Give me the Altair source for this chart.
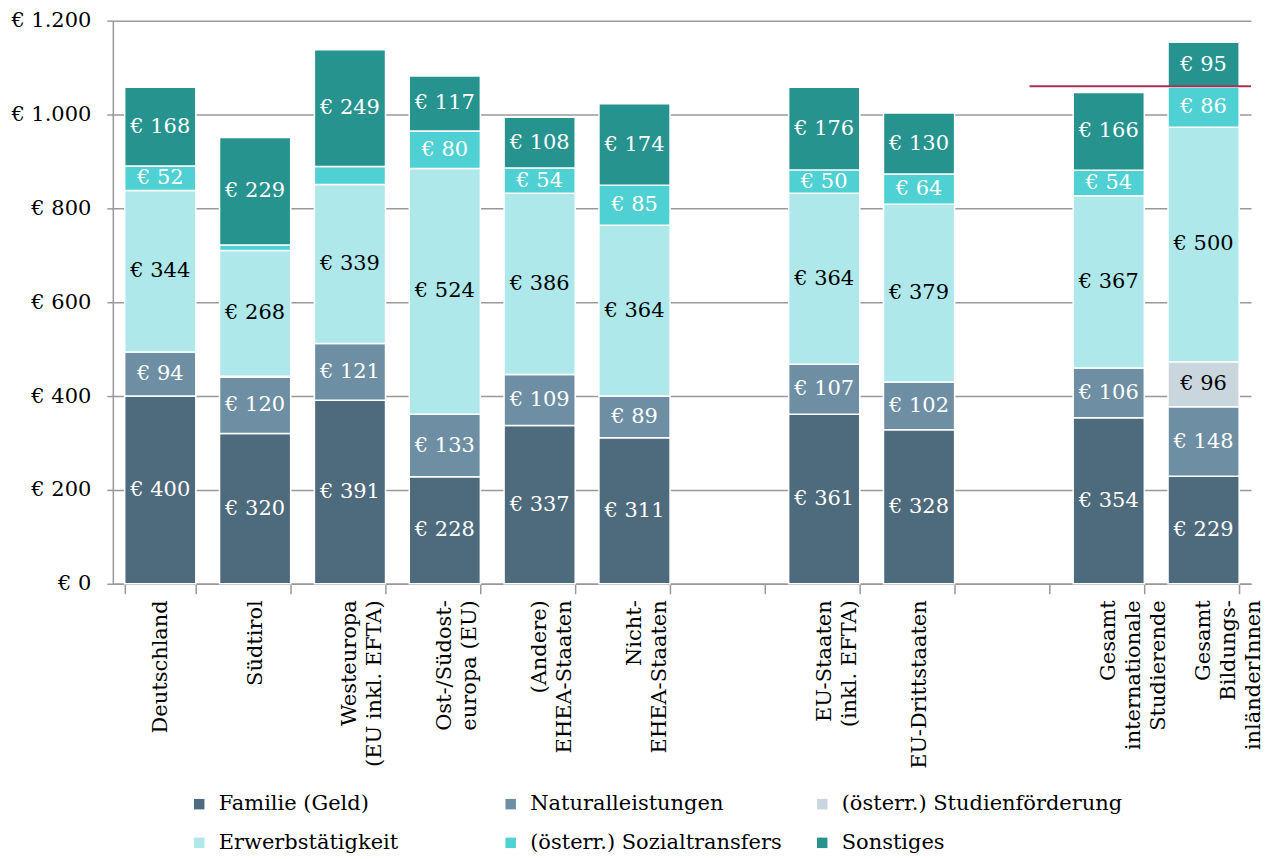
import altair as alt
import pandas as pd

# ---- data ----
categories = ["Deutschland", "Südtirol", "Westeuropa|(EU inkl. EFTA)", "Ost-/Südost-|europa (EU)",
              "(Andere)|EHEA-Staaten", "Nicht-|EHEA-Staaten", "gap1",
              "EU-Staaten|(inkl. EFTA)", "EU-Drittstaaten", "gap2",
              "Gesamt|internationale|Studierende", "Gesamt|Bildungs-|inländerInnen"]
groups = ["Deutschland", "Südtirol", "Westeuropa|(EU inkl. EFTA)", "Ost-/Südost-|europa (EU)",
          "(Andere)|EHEA-Staaten", "Nicht-|EHEA-Staaten",
          "EU-Staaten|(inkl. EFTA)", "EU-Drittstaaten",
          "Gesamt|internationale|Studierende", "Gesamt|Bildungs-|inländerInnen"]
series = ["Familie (Geld)", "Naturalleistungen", "(österr.) Studienförderung",
          "Erwerbstätigkeit", "(österr.) Sozialtransfers", "Sonstiges"]
colors = ["#4E6A7D", "#6E8FA3", "#C9D6DE", "#AEE8EA", "#4FD0D3", "#27938F"]
dark_text_series = ["(österr.) Studienförderung", "Erwerbstätigkeit"]

familie = [400, 320, 391, 228, 337, 311, 361, 328, 354, 229]
natural = [94, 120, 121, 133, 109, 89, 107, 102, 106, 148]
studienf = [0, 2, 0, 0, 0, 0, 0, 0, 0, 96]
erwerb = [344, 268, 339, 524, 386, 364, 364, 379, 367, 500]
sozial = [52, 12, 38, 80, 54, 85, 50, 64, 54, 86]
sonst = [168, 229, 249, 117, 108, 174, 176, 130, 166, 95]
values = [familie, natural, studienf, erwerb, sozial, sonst]

ref_value = 1060
label_min = 45

rows = []
for gi, g in enumerate(groups):
    base = 0
    for si, s in enumerate(series):
        v = values[si][gi]
        if v > 0:
            rows.append({"cat": g, "series": s, "order": si, "value": v,
                         "start": base, "end": base + v,
                         "mid": base + v / 2,
                         "label": f"€ {v}" if v >= label_min else ""})
        base += v
df = pd.DataFrame(rows)
df_white = df[~df["series"].isin(dark_text_series)]
df_black = df[df["series"].isin(dark_text_series)]

FONT = "DejaVu Serif"
W, H = 1140, 564

xscale = alt.Scale(domain=categories, paddingInner=0.25, paddingOuter=0.125)
yscale = alt.Scale(domain=[0, 1200])

x_enc = alt.X("cat:N", scale=xscale, title=None,
              axis=alt.Axis(labelAngle=-90, tickBand="extent", tickSize=10,
                            labelPadding=6, labelFontSize=21, labelLineHeight=25,
                            labelExpr="(isString(datum.value) && indexof(datum.value, 'gap') != 0) ? split(datum.value, '|') : ''",
                            labelLimit=400, domainColor="#999999", tickColor="#999999",
                            domainWidth=1.5, tickWidth=1.5, grid=False, labelColor="black"))
y_enc = alt.Y("start:Q", scale=yscale, title=None,
              axis=alt.Axis(values=[0, 200, 400, 600, 800, 1000, 1200],
                            labelExpr="'€ ' + replace(format(datum.value, ',.0f'), ',', '.')",
                            labelFontSize=21, tickSize=6, labelPadding=16,
                            domainColor="#999999", tickColor="#999999", domainWidth=1.5,
                            tickWidth=1.5, gridColor="#999999", gridWidth=1.5,
                            labelColor="black"))

bars = alt.Chart(df).mark_bar(stroke="white", strokeWidth=1.5).encode(
    x=x_enc,
    y=y_enc,
    y2="end:Q",
    color=alt.Color("series:N", scale=alt.Scale(domain=series, range=colors), title=None,
                    legend=alt.Legend(orient="none", legendX=76, legendY=774, columns=3,
                                      direction="horizontal", symbolType="square",
                                      symbolSize=110, symbolStrokeWidth=0, labelFontSize=21,
                                      labelOffset=9, gridAlign="all", columnPadding=0,
                                      rowPadding=17, padding=0, labelLimit=400,
                                      labelColor="black")),
)

texts_w = alt.Chart(df_white).mark_text(font=FONT, fontSize=21, color="white").encode(
    x=alt.X("cat:N", scale=xscale),
    y=alt.Y("mid:Q", scale=yscale),
    text="label:N",
)
texts_b = alt.Chart(df_black).mark_text(font=FONT, fontSize=21, color="black").encode(
    x=alt.X("cat:N", scale=xscale),
    y=alt.Y("mid:Q", scale=yscale),
    text="label:N",
)

ref_df = pd.DataFrame({"start": ["gap2"], "y": [ref_value]})
rule = alt.Chart(ref_df).mark_rule(color="#A8324F", strokeWidth=2).encode(
    x=alt.X("start:N", scale=xscale, bandPosition=0.72),
    x2=alt.value(W),
    y=alt.Y("y:Q", scale=yscale),
)

chart = alt.layer(bars, texts_w, texts_b, rule).properties(
    width=W, height=H,
    padding={"left": 2, "top": 1, "right": 0, "bottom": 0},
).configure(font=FONT).configure_view(stroke=None).configure_axis(labelFont=FONT).configure_legend(labelFont=FONT)

chart.save("out.html", embed_options={"renderer": "svg", "actions": False})
